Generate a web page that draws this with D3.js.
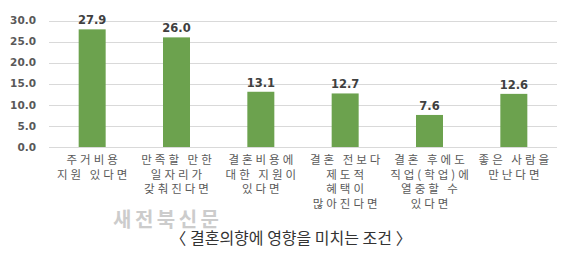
<!DOCTYPE html>
<html><head><meta charset="utf-8">
<script src="https://cdn.jsdelivr.net/npm/d3@7"></script>
<style>body{margin:0;background:#fff}svg{display:block}</style>
</head><body>
<script>
const categories = [
  ["주거비용", "지원 있다면"],
  ["만족할 만한", "일자리가", "갖춰진다면"],
  ["결혼비용에", "대한 지원이", "있다면"],
  ["결혼 전보다", "제도적", "혜택이", "많아진다면"],
  ["결혼 후에도", "직업(학업)에", "열중할 수", "있다면"],
  ["좋은 사람을", "만난다면"]
];
const values = [27.9, 26.0, 13.1, 12.7, 7.6, 12.6];
const yTicks = [0, 5, 10, 15, 20, 25, 30];
const watermark = "새전북신문";
const caption = "〈 결혼의향에 영향을 미치는 조건 〉";

const W = 567, H = 255;
const svg = d3.select("body").append("svg").attr("width", W).attr("height", H);
const font = "'Noto Sans CJK KR','Noto Sans',sans-serif";

const x = d3.scaleBand().domain(d3.range(values.length)).range([50, 556])
  .paddingInner(0.68).paddingOuter(0.34);
const y = d3.scaleLinear().domain([0, 30]).range([147, 20.5]);

// gridlines
svg.append("g").selectAll("line").data(yTicks).join("line")
  .attr("x1", 49).attr("x2", 557)
  .attr("y1", d => Math.round(y(d)) + 0.5).attr("y2", d => Math.round(y(d)) + 0.5)
  .attr("stroke", "#d9d9d9").attr("stroke-width", 1);

// y axis labels
svg.append("g").selectAll("text").data(yTicks).join("text")
  .attr("x", 36).attr("y", d => y(d)).attr("dy", "0.35em")
  .attr("text-anchor", "end").attr("font-family", "'DejaVu Sans',sans-serif")
  .attr("font-size", 10.5).attr("font-weight", "bold").attr("fill", "#595959")
  .text(d => d.toFixed(1));

// bars
svg.append("g").selectAll("rect").data(values).join("rect")
  .attr("x", (d, i) => x(i)).attr("width", x.bandwidth())
  .attr("y", d => y(d)).attr("height", d => y(0) - y(d))
  .attr("fill", "#6ca24e");

// value labels
svg.append("g").selectAll("text").data(values).join("text")
  .attr("x", (d, i) => x(i) + x.bandwidth() / 2).attr("y", d => y(d) - 5)
  .attr("text-anchor", "middle").attr("font-family", "'DejaVu Sans',sans-serif")
  .attr("font-size", 11.5).attr("font-weight", "bold").attr("fill", "#404040")
  .text(d => d.toFixed(1));

// category labels
const ls = 3;
const cat = svg.append("g").selectAll("text").data(categories).join("text")
  .attr("x", (d, i) => x(i) + x.bandwidth() / 2 + ls / 2).attr("y", 164)
  .attr("text-anchor", "middle").attr("font-family", font)
  .attr("font-size", 11.5).attr("letter-spacing", ls).attr("fill", "#595959");
cat.selectAll("tspan").data(d => d).join("tspan")
  .attr("x", function () { return d3.select(this.parentNode).attr("x"); })
  .attr("dy", (d, i) => i === 0 ? 0 : 14.5)
  .text(d => d);

// watermark
svg.append("text").attr("x", 113).attr("y", 227)
  .attr("font-family", font).attr("font-size", 20).attr("font-weight", "bold")
  .attr("letter-spacing", 3.5).attr("fill", "#cccccc").text(watermark);

// caption
svg.append("text").attr("x", 291).attr("y", 244)
  .attr("text-anchor", "middle").attr("font-family", font).attr("font-size", 16)
  .attr("fill", "#333333").text(caption);
</script>
</body></html>
